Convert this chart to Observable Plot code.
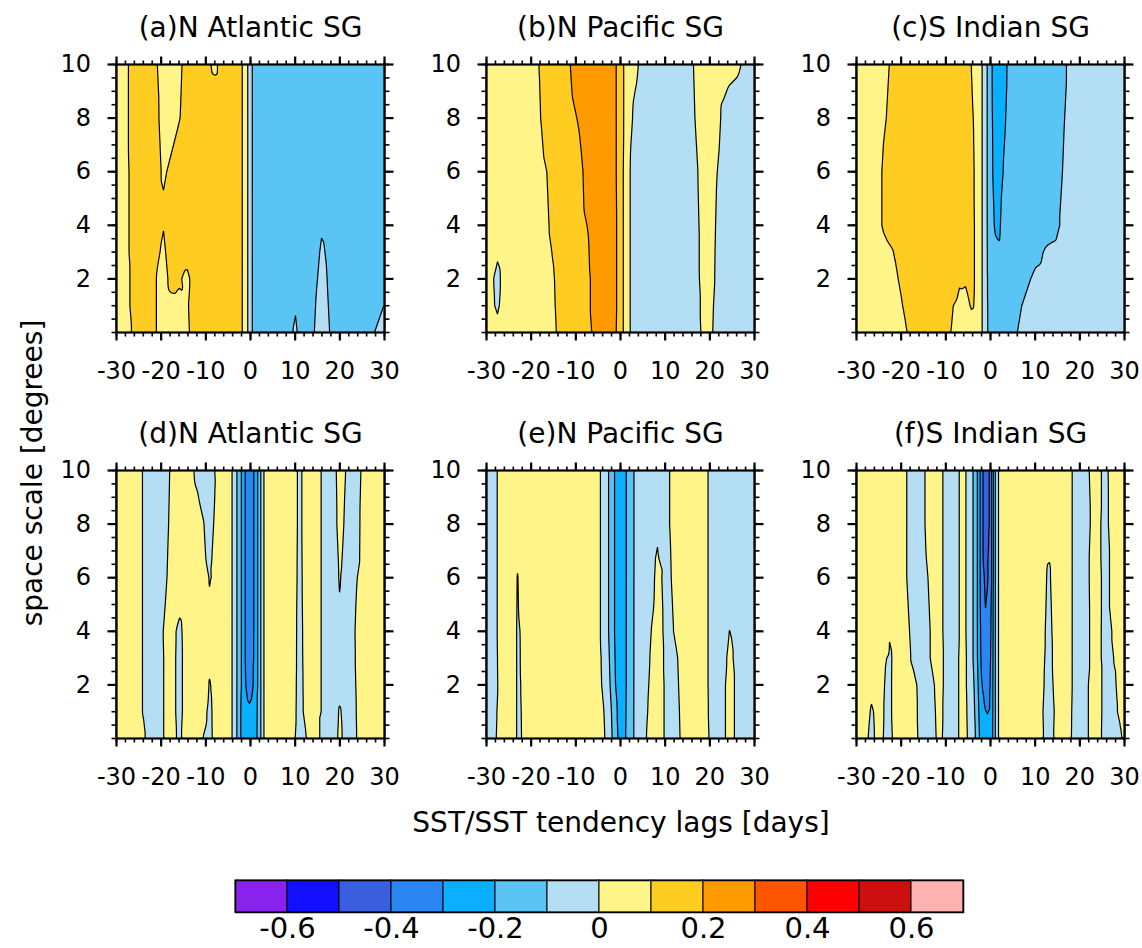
<!DOCTYPE html>
<html><head><meta charset="utf-8">
<script src="https://cdn.jsdelivr.net/npm/d3@7"></script>
<script src="https://cdn.jsdelivr.net/npm/@observablehq/plot@0.6"></script>
<style>
body{margin:0;background:#fff;}
#root{position:relative;width:1142px;height:948px;font-family:"DejaVu Sans",sans-serif;overflow:hidden;}
.panel{position:absolute;}
.panel svg{overflow:visible;}
</style></head><body><div id="root"></div>
<script>
// contour levels and colour table
const levels = [-0.6,-0.5,-0.4,-0.3,-0.2,-0.1,0,0.1,0.2,0.3,0.4,0.5,0.6];
const colors = ["#8a22ee","#1010ff","#3b5ee0","#2a86f2","#0ab0ff","#5ac4f4","#b3def3","#fff488","#ffcd21","#ff9a00","#ff5500","#ff0000","#cc1010","#ffb2b2"];
const colorbarLabels = [-0.6,-0.4,-0.2,0,0.2,0.4,0.6];
const xTicks = [-30,-20,-10,0,10,20,30];
const yTicks = [2,4,6,8,10];
const xMinor = d3.range(-30, 31, 2);
const yMinor = d3.range(0, 10.01, 0.5);
const xLabel = "SST/SST tendency lags [days]";
const yLabel = "space scale [degrees]";

// (a) N Atlantic SG
const aTitle = "(a)N Atlantic SG";
const aLags = [-30,-28,-26,-23,-21,-19.5,-18,-16,-14,-12,-8,-5,-2,-1,0,1,4,8,10,12,14,16,18,22,27,30];
const aScales = [0,1,2,3,4,5,6,8,10];
const aValues = [
 [.06,.09,.105,.13,.098,.09,.09,.092,.096,.12,.12,.12,.11,.05,-.08,-.13,-.15,-.14,-.085,-.15,-.105,-.07,-.105,-.15,-.11,-.07],
 [.06,.09,.11,.13,.098,.09,.095,.096,.098,.12,.12,.12,.11,.05,-.08,-.13,-.15,-.15,-.105,-.15,-.11,-.075,-.11,-.15,-.13,-.098],
 [.06,.09,.11,.13,.098,.09,.105,.102,.095,.12,.12,.12,.11,.05,-.08,-.13,-.15,-.15,-.14,-.15,-.12,-.08,-.115,-.15,-.15,-.13],
 [.06,.09,.115,.13,.105,.095,.11,.11,.11,.12,.12,.12,.11,.05,-.08,-.13,-.15,-.16,-.15,-.15,-.13,-.09,-.12,-.16,-.15,-.13],
 [.06,.09,.115,.13,.11,.101,.115,.12,.12,.12,.12,.12,.11,.05,-.08,-.13,-.15,-.16,-.15,-.15,-.14,-.105,-.13,-.16,-.15,-.12],
 [.06,.09,.115,.13,.11,.102,.11,.12,.12,.12,.12,.12,.11,.05,-.08,-.13,-.15,-.16,-.16,-.15,-.15,-.13,-.14,-.16,-.15,-.12],
 [.06,.09,.115,.13,.11,.095,.105,.12,.12,.12,.12,.12,.11,.05,-.08,-.13,-.15,-.16,-.16,-.15,-.15,-.14,-.15,-.16,-.15,-.12],
 [.06,.09,.12,.13,.105,.09,.085,.098,.115,.125,.12,.12,.11,.05,-.08,-.13,-.15,-.16,-.16,-.15,-.15,-.15,-.15,-.16,-.15,-.13],
 [.06,.09,.12,.13,.101,.09,.085,.095,.11,.12,.095,.12,.11,.05,-.08,-.13,-.15,-.16,-.16,-.15,-.15,-.14,-.15,-.16,-.15,-.13]
];

// (b) N Pacific SG
const bTitle = "(b)N Pacific SG";
const bLags = [-30,-28.5,-27.5,-26,-22,-18,-15,-12,-9,-6,-3,-1,0,1,3,5,10,15,17,19,21,23,26,28,30];
const bScales = [0,1,2,3,4,6,8,10];
const bValues = [
 [.02,.02,.02,.03,.06,.075,.092,.13,.17,.205,.25,.205,.15,.07,-.05,-.06,-.06,-.04,-.02,.02,-.004,-.03,-.04,-.04,-.04],
 [.02,.005,-.01,.03,.06,.075,.095,.135,.17,.21,.25,.21,.15,.07,-.05,-.06,-.06,-.04,-.015,.02,-.002,-.03,-.04,-.04,-.04],
 [.02,.002,-.02,.03,.06,.075,.097,.14,.17,.21,.25,.21,.15,.07,-.05,-.06,-.06,-.04,-.01,.02,.002,-.03,-.04,-.04,-.04],
 [.025,.02,.01,.035,.06,.078,.103,.145,.177,.212,.25,.21,.15,.07,-.05,-.06,-.06,-.04,-.01,.022,.003,-.03,-.04,-.04,-.04],
 [.03,.03,.02,.04,.06,.08,.11,.15,.185,.215,.25,.21,.15,.07,-.05,-.06,-.06,-.04,-.01,.025,.005,-.03,-.04,-.04,-.04],
 [.03,.03,.03,.04,.065,.085,.115,.16,.19,.24,.25,.205,.15,.07,-.05,-.06,-.06,-.04,-.005,.025,.01,-.02,-.04,-.04,-.04],
 [.03,.03,.03,.04,.07,.098,.14,.18,.207,.26,.24,.205,.15,.08,-.014,-.04,-.06,-.025,.005,.03,.025,-.01,-.03,-.04,-.04],
 [.03,.03,.03,.04,.07,.102,.14,.19,.23,.26,.24,.205,.15,.08,.02,-.02,-.06,-.02,.01,.03,.03,.02,.01,-.01,-.03]
];

// (c) S Indian SG
const cTitle = "(c)S Indian SG";
const cLags = [-30,-26,-24,-22,-20,-18,-15,-12,-9,-7,-5.5,-4,-3,-2,-1,0,1,2,3,5,8,10,13,16,19,24,30];
const cScales = [0,1,2,3,4,6,8,10];
const cValues = [
 [.05,.07,.075,.08,.09,.105,.12,.115,.101,.085,.08,.085,.07,.01,-.07,-.15,-.16,-.16,-.14,-.11,-.08,-.075,-.07,-.065,-.06,-.06,-.05],
 [.05,.07,.08,.085,.097,.115,.13,.12,.105,.09,.092,.105,.085,.01,-.07,-.15,-.16,-.16,-.15,-.12,-.09,-.08,-.07,-.065,-.06,-.06,-.05],
 [.05,.07,.08,.09,.105,.125,.14,.14,.13,.105,.103,.11,.085,.01,-.07,-.16,-.17,-.17,-.16,-.14,-.11,-.09,-.08,-.07,-.065,-.06,-.05],
 [.05,.07,.085,.097,.12,.135,.15,.15,.15,.14,.125,.11,.085,.01,-.07,-.17,-.19,-.195,-.17,-.15,-.13,-.115,-.09,-.08,-.07,-.06,-.05],
 [.05,.075,.105,.12,.13,.14,.15,.15,.15,.14,.125,.11,.085,.01,-.07,-.18,-.205,-.208,-.17,-.16,-.15,-.14,-.125,-.095,-.07,-.06,-.05],
 [.05,.075,.105,.12,.13,.14,.15,.15,.15,.14,.125,.11,.08,.01,-.07,-.185,-.215,-.225,-.195,-.175,-.155,-.145,-.125,-.101,-.075,-.06,-.05],
 [.05,.07,.095,.11,.13,.14,.15,.15,.15,.14,.125,.105,.075,.01,-.07,-.185,-.22,-.23,-.205,-.18,-.16,-.15,-.13,-.105,-.08,-.06,-.05],
 [.05,.07,.09,.105,.13,.14,.15,.15,.15,.14,.12,.095,.06,.01,-.07,-.185,-.225,-.23,-.21,-.18,-.16,-.15,-.13,-.11,-.08,-.06,-.05]
];

// (d) N Atlantic SG
const dTitle = "(d)N Atlantic SG";
const dLags = [-30,-26,-24,-22,-20,-18,-16,-14,-12,-10.5,-9,-7.5,-5,-4,-3,-2,-1,0,1,2,3,5,9,11,13,16,18,20,21.5,23,25,30];
const dScales = [0,1,2,3,4,6,8,10];
const dValues = [
 [.03,.02,.008,-.03,-.008,.02,-.008,.02,.03,-.002,-.012,.03,.04,-.002,-.105,-.22,-.27,-.28,-.24,-.15,.01,.04,.03,-.03,.01,-.002,-.03,.01,-.02,-.012,.02,.03],
 [.03,.02,-.002,-.03,-.008,.02,-.012,.02,.03,.01,-.01,.03,.04,-.002,-.105,-.22,-.28,-.29,-.25,-.15,.01,.04,.03,-.02,.03,-.002,-.03,.005,-.02,-.01,.02,.03],
 [.03,.02,-.002,-.03,-.008,.02,-.012,.02,.03,.02,-.005,.03,.04,-.002,-.105,-.205,-.31,-.33,-.28,-.15,.01,.04,.03,-.018,.03,-.002,-.03,-.015,-.02,-.008,.02,.03],
 [.03,.02,-.002,-.03,-.008,.02,-.012,.02,.03,.02,.015,.03,.04,-.002,-.105,-.205,-.32,-.35,-.28,-.15,.01,.04,.03,-.016,.03,-.002,-.03,-.015,-.02,-.006,.02,.03],
 [.03,.02,-.002,-.03,-.006,.02,-.01,.02,.03,.02,.02,.03,.04,-.002,-.105,-.205,-.32,-.36,-.28,-.15,.01,.04,.03,-.015,.03,-.002,-.03,-.006,-.02,-.005,.02,.03],
 [.03,.02,-.002,-.03,-.015,.008,.03,.03,.03,.015,-.004,.02,.04,-.002,-.105,-.205,-.32,-.36,-.28,-.15,.01,.04,.03,-.012,.03,-.002,-.03,.004,-.02,-.01,.012,.03],
 [.03,.02,-.002,-.03,-.02,.004,.03,.03,.02,.002,-.03,.03,.04,-.002,-.105,-.205,-.32,-.36,-.28,-.15,.01,.04,.03,-.01,.03,-.002,-.03,.015,-.01,-.03,.01,.03],
 [.03,.02,-.002,-.03,-.02,.001,.03,.02,-.01,-.03,-.02,.01,.04,-.002,-.105,-.205,-.32,-.36,-.28,-.15,.01,.04,.03,-.01,.03,-.002,-.03,.02,-.003,-.03,.005,.03]
];

// (e) N Pacific SG
const eTitle = "(e)N Pacific SG";
const eLags = [-30,-28,-26,-24,-23,-22,-20,-10,-5,-4,-3,-2,-1,0,1,2,3,5,7,8,9,10.5,12,14,18,20,22,24.5,27,30];
const eScales = [0,1,2,3,4,6,8,10];
const eValues = [
 [-.03,-.002,.02,.03,-.01,.002,.04,.05,.03,.02,-.02,-.09,-.17,-.24,-.21,-.15,-.098,-.02,.03,.03,.02,-.02,-.02,.01,.02,-.002,-.03,.02,-.03,-.03],
 [-.03,-.004,.02,.03,-.01,.003,.04,.05,.025,.012,-.03,-.102,-.185,-.245,-.215,-.15,-.098,-.03,.025,.03,.02,-.02,-.018,.012,.02,-.004,-.03,.02,-.03,-.03],
 [-.03,-.007,.02,.03,-.01,.005,.04,.05,.02,-.005,-.06,-.12,-.21,-.25,-.22,-.15,-.098,-.04,.02,.03,.02,-.02,-.015,.015,.02,-.005,-.03,.02,-.03,-.03],
 [-.03,-.006,.02,.03,-.01,.008,.04,.05,.02,-.01,-.07,-.13,-.22,-.255,-.22,-.15,-.098,-.045,.012,.025,.015,-.02,-.012,.018,.02,-.005,-.03,.012,-.03,-.03],
 [-.03,-.005,.02,.03,-.01,.01,.04,.05,.02,-.02,-.08,-.14,-.23,-.26,-.22,-.15,-.098,-.05,.003,.02,.01,-.02,.002,.03,.02,-.005,-.03,.002,-.03,-.03],
 [-.03,-.005,.02,.03,-.005,.03,.04,.05,.02,-.02,-.08,-.14,-.23,-.26,-.22,-.15,-.098,-.06,-.02,.012,.004,-.02,.015,.03,.02,-.005,-.03,-.03,-.03,-.03],
 [-.03,-.005,.02,.03,.03,.03,.04,.05,.02,-.02,-.08,-.14,-.23,-.26,-.22,-.15,-.098,-.06,-.04,-.005,-.03,-.01,.02,.03,.02,-.005,-.03,-.03,-.03,-.03],
 [-.03,-.005,.02,.03,.03,.03,.04,.05,.02,-.02,-.08,-.14,-.23,-.26,-.22,-.15,-.098,-.06,-.04,-.04,-.035,-.01,.02,.03,.02,-.005,-.03,-.03,-.03,-.03]
];

// (f) S Indian SG
const fTitle = "(f)S Indian SG";
const fLags = [-30,-28,-26.5,-25,-23.5,-22.5,-20,-17.5,-15.5,-13,-11.5,-9,-6,-5,-4,-3,-2,-1,0,1,2,4,9,11.5,13,14.5,18,20,23.5,25.5,28,30];
const fScales = [0,1,2,3,4,6,8,10];
const fValues = [
 [.03,.01,-.015,.03,-.015,-.008,.03,.016,-.01,-.01,.008,-.02,.012,-.003,-.05,-.13,-.26,-.29,-.29,-.11,.03,.05,.04,.008,-.03,.008,.002,-.03,.025,-.012,-.015,.006],
 [.03,.02,-.008,.03,-.01,-.005,.03,.015,-.012,-.008,.01,-.02,.012,-.005,-.06,-.15,-.28,-.302,-.298,-.11,.03,.05,.04,.005,-.025,.005,.003,-.03,.025,-.01,-.008,.03],
 [.03,.03,.015,.03,-.005,-.005,.03,.015,-.015,-.005,.012,-.02,.012,-.008,-.07,-.17,-.295,-.34,-.31,-.11,.03,.05,.05,.01,-.02,.01,.005,-.03,.025,-.01,-.002,.03],
 [.03,.03,.03,.03,.002,-.006,.03,-.005,-.02,.005,.012,-.02,.012,-.008,-.09,-.19,-.32,-.37,-.32,-.11,.03,.05,.05,.015,-.02,.015,.005,-.03,.018,-.01,.002,.03],
 [.03,.03,.03,.03,.03,-.002,.03,-.01,-.02,.005,.01,-.02,.01,-.01,-.09,-.19,-.33,-.39,-.33,-.11,.03,.05,.05,.02,-.02,.02,.005,-.03,.018,-.01,.005,.03],
 [.03,.03,.03,.03,.03,.03,.02,-.02,-.015,.01,.01,-.02,.01,-.01,-.09,-.19,-.35,-.43,-.36,-.11,.03,.05,.05,.03,-.012,.03,.005,-.03,.02,-.01,.012,.03],
 [.03,.03,.03,.03,.03,.03,.02,-.02,-.01,.02,.01,-.02,.01,-.01,-.09,-.19,-.35,-.5,-.36,-.11,.03,.05,.05,.04,.03,.03,.005,-.03,.015,-.01,.018,.03],
 [.03,.03,.03,.03,.03,.03,.02,-.02,-.01,.02,.01,-.02,.01,-.01,-.09,-.19,-.35,-.5,-.36,-.11,.03,.05,.05,.04,.03,.03,.005,-.03,.02,-.01,.02,.03]
];

const panels = [
  {title: aTitle, lags: aLags, scales: aScales, values: aValues, col: 0, row: 0},
  {title: bTitle, lags: bLags, scales: bScales, values: bValues, col: 1, row: 0},
  {title: cTitle, lags: cLags, scales: cScales, values: cValues, col: 2, row: 0},
  {title: dTitle, lags: dLags, scales: dScales, values: dValues, col: 0, row: 1},
  {title: eTitle, lags: eLags, scales: eScales, values: eValues, col: 1, row: 1},
  {title: fTitle, lags: fLags, scales: fScales, values: fValues, col: 2, row: 1}
];

const root = document.getElementById("root");
const FONT = "DejaVu Sans, sans-serif";
const ML = 80, MT = 64, MR = 15, MB = 62, PW = 268, PH = 268;
const colLeft = [116, 486, 856], rowTop = [64, 470];
const colorScale = {type: "threshold", domain: levels, range: colors};
const noText = () => "";

for (const p of panels) {
  const data = [];
  p.scales.forEach((s, i) => p.lags.forEach((lag, j) => data.push({lag, s, v: p.values[i][j]})));
  const fig = Plot.plot({
    width: ML + PW + MR, height: MT + PH + MB,
    marginLeft: ML, marginTop: MT, marginRight: MR, marginBottom: MB,
    x: {domain: [-30, 30]},
    y: {domain: [0, 10]},
    color: colorScale,
    style: {fontFamily: FONT, background: "transparent", color: "#000"},
    marks: [
      Plot.contour(data, {x: "lag", y: "s", fill: "v", stroke: "#000", strokeWidth: 1.2, thresholds: levels, interpolate: "barycentric"}),
      Plot.axisX({anchor: "bottom", ticks: xMinor, tickSize: 4.5, strokeWidth: 1.6, tickFormat: noText, label: null}),
      Plot.axisX({anchor: "top", ticks: xMinor, tickSize: 4.5, strokeWidth: 1.6, tickFormat: noText, label: null}),
      Plot.axisY({anchor: "left", ticks: yMinor, tickSize: 4.5, strokeWidth: 1.6, tickFormat: noText, label: null}),
      Plot.axisY({anchor: "right", ticks: yMinor, tickSize: 4.5, strokeWidth: 1.6, tickFormat: noText, label: null}),
      Plot.axisX({anchor: "bottom", ticks: xTicks, tickSize: 8.5, tickPadding: 21, strokeWidth: 2.2, tickFormat: d => String(d), fontSize: 24, label: null}),
      Plot.axisX({anchor: "top", ticks: xTicks, tickSize: 8.5, strokeWidth: 2.2, tickFormat: noText, label: null}),
      Plot.axisY({anchor: "left", ticks: yTicks, tickSize: 8.5, tickPadding: 17, strokeWidth: 2.2, tickFormat: d => String(d), fontSize: 24, label: null}),
      Plot.axisY({anchor: "right", ticks: yTicks, tickSize: 8.5, strokeWidth: 2.2, tickFormat: noText, label: null}),
      Plot.frame({stroke: "#000", strokeWidth: 2.2}),
      Plot.text([p.title], {text: d => d, frameAnchor: "top", dy: -36, fontSize: 28, lineAnchor: "middle"})
    ]
  });
  const div = document.createElement("div");
  div.className = "panel";
  div.style.left = (colLeft[p.col] - ML) + "px";
  div.style.top = (rowTop[p.row] - MT) + "px";
  div.appendChild(fig);
  root.appendChild(div);
}

// colour bar
const boxes = colors.map((c, i) => ({i, v: i === 0 ? -0.7 : levels[i - 1]}));
const cb = Plot.plot({
  width: 1142, height: 88,
  marginLeft: 235, marginRight: 179, marginTop: 20, marginBottom: 36,
  x: {domain: [0, colors.length]},
  y: {domain: [0, 1], axis: null},
  color: colorScale,
  style: {fontFamily: FONT, background: "transparent", color: "#000"},
  marks: [
    Plot.rect(boxes, {x1: "i", x2: d => d.i + 1, y1: 0, y2: 1, fill: "v", stroke: "#000", strokeWidth: 1}),
    Plot.frame({stroke: "#000", strokeWidth: 1.5}),
    Plot.axisX({anchor: "bottom", ticks: colorbarLabels.map(v => levels.indexOf(v) + 1), tickSize: 0, tickPadding: 5,
      tickFormat: i => String(levels[i - 1]), fontSize: 29, label: null})
  ]
});
const cbDiv = document.createElement("div");
cbDiv.className = "panel";
cbDiv.style.left = "0px"; cbDiv.style.top = "860px";
cbDiv.appendChild(cb);
root.appendChild(cbDiv);

// shared axis titles
const svg = d3.select(root).append("svg")
  .attr("width", 1142).attr("height", 948)
  .style("position", "absolute").style("left", 0).style("top", 0)
  .style("pointer-events", "none")
  .attr("font-family", FONT);
svg.append("text").attr("x", 621).attr("y", 832).attr("text-anchor", "middle").attr("font-size", 28).attr("fill", "#000").text(xLabel);
svg.append("text").attr("transform", "translate(42,473) rotate(-90)").attr("text-anchor", "middle").attr("font-size", 28).attr("fill", "#000").text(yLabel);
</script>
</body></html>
